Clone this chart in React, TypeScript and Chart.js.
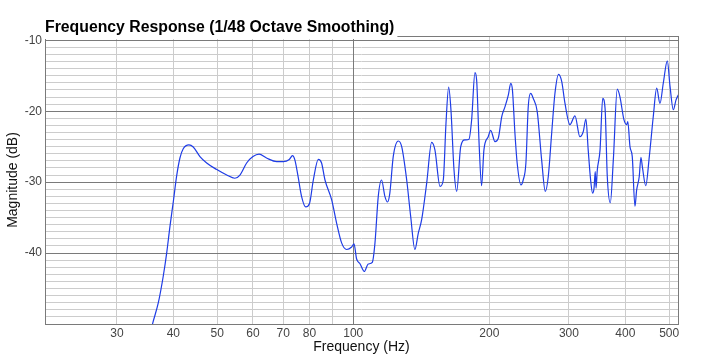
import React, { useEffect, useRef } from "react";
import { Chart, registerables } from "chart.js";

Chart.register(...registerables);

const TITLE = "Frequency Response (1/48 Octave Smoothing)";
const X_TITLE = "Frequency (Hz)";
const Y_TITLE = "Magnitude (dB)";

const X_TICKS = [30, 40, 50, 60, 70, 80, 90, 100, 200, 300, 400, 500];
const X_MAJOR = [100];
const X_HIDDEN_LABELS = [90];
const Y_LABELS = [-10, -20, -30, -40];
const Y_MAJOR = [-10, -20, -30, -40, -50];

const FREQS = [
  35.5, 36.0, 37.05, 37.98, 38.66, 39.3, 40.0, 40.66, 41.36, 42.06, 43.3, 44.26, 45.8, 47.4, 49.8,
  52.5, 54.7, 56.15, 58.1, 60.0, 61.9, 64.3, 67.7, 70.0, 72.2, 73.4, 74.3, 75.5, 76.85, 78.5, 80.0,
  81.6, 83.7, 85.1, 86.6, 89.6, 91.9, 94.3, 96.7, 99.2, 100.4, 101.7, 103.5, 105.8, 107.9, 110.2,
  111.7, 113.6, 115.5, 117.5, 119.1, 120.5, 122.6, 125.8, 128.0, 131.3, 134.0, 136.9, 139.3, 141.7,
  145.4, 149.1, 151.6, 155.6, 158.2, 160.4, 162.6, 164.5, 167.1, 169.4, 172.9, 176.7, 180.3, 182.8,
  185.9, 187.5, 190.0, 192.3, 194.6, 198.9, 201.4, 205.9, 209.4, 213.1, 216.7, 220.4, 223.1, 225.0,
  227.9, 230.5, 235.0, 237.7, 241.0, 243.9, 246.9, 250.2, 255.3, 261.1, 266.0, 270.1, 274.8, 279.4,
  284.7, 289.2, 294.1, 301.6, 309.4, 317.3, 322.7, 327.2, 331.0, 335.1, 338.5, 341.0, 343.1, 344.5,
  346.7, 351.6, 356.4, 360.7, 364.8, 370.5, 376.2, 383.8, 389.0, 397.1, 402.6, 405.0, 409.5, 414.3,
  420.0, 423.7, 429.3, 433.0, 436.5, 443.7, 451.9, 461.1, 469.2, 477.1, 485.2, 495.3, 502.2, 510.7,
  517.8, 524.0,
];

const MAGS = [
  -51.5, -49.9, -47.0, -43.3, -40.0, -36.3, -32.7, -29.2, -26.6, -25.3, -24.75, -25.05, -26.4, -27.3, -28.2,
  -29.0, -29.45, -29.0, -27.3, -26.4, -26.06, -26.6, -27.1, -27.1, -26.8, -26.25, -26.9, -29.2, -32.0, -33.5, -33.06,
  -29.7, -26.8, -27.3, -29.7, -32.5, -35.8, -38.6, -39.5, -39.15, -38.7, -40.8, -41.5, -42.6, -41.55, -41.3,
  -38.6, -32.0, -29.7, -32.0, -32.8, -31.55, -26.4, -24.2, -25.0, -29.7, -34.85, -39.5, -37.2, -35.3,
  -30.1, -24.4, -25.45, -30.6, -29.7, -21.7, -16.6, -19.8, -28.3, -31.3, -25.0, -24.05, -23.95, -21.2,
  -14.56, -15.6, -25.0, -30.5, -25.45, -23.6, -22.7, -24.3, -23.8, -20.75, -19.35, -17.7, -16.06, -17.0,
  -23.1, -27.3, -30.4, -29.7, -27.3, -19.35, -17.5, -18.2, -20.05, -26.86, -31.3, -29.2, -23.1, -17.5,
  -14.8, -15.8, -18.9, -21.9, -20.66, -23.6, -22.9, -21.1, -25.45, -29.7, -31.55, -30.85, -28.5, -30.85,
  -28.3, -25.45, -18.2, -19.6, -29.2, -32.9, -26.86, -16.9, -17.94, -21.2, -21.9, -21.46, -25.0, -26.4,
  -33.4, -31.1, -29.2, -26.5, -28.0, -30.5, -26.4, -20.75, -16.76, -18.9, -16.06, -12.9, -16.5, -19.8,
  -18.4, -17.7,
];

const FONT = '"Liberation Sans", Arial, Helvetica, sans-serif';
const MINOR = "#cccccc";
const MAJOR = "#7a7a7a";

const align = (p: number) => Math.round(p - 0.5) + 0.5;

const framePlugin = {
  id: "frameAndTitle",
  beforeDatasetsDraw(chart: any) {
    const { ctx, chartArea, scales } = chart;
    const l = align(chartArea.left);
    const r = align(chartArea.right);
    const t = align(chartArea.top);
    const b = align(chartArea.bottom);
    ctx.save();
    ctx.strokeStyle = MAJOR;
    ctx.lineWidth = 1;
    ctx.beginPath();
    for (const v of Y_MAJOR) {
      const y = align(scales.y.getPixelForValue(v));
      ctx.moveTo(l, y);
      ctx.lineTo(r, y);
    }
    for (const v of X_MAJOR) {
      const x = align(scales.x.getPixelForValue(v));
      ctx.moveTo(x, t);
      ctx.lineTo(x, b);
    }
    ctx.stroke();
    ctx.strokeRect(l, t, r - l, b - t);
    ctx.restore();
  },
  afterDraw(chart: any) {
    const { ctx } = chart;
    ctx.save();
    ctx.font = `bold 15.8px ${FONT}`;
    const w = ctx.measureText(TITLE).width;
    ctx.fillStyle = "#ffffff";
    ctx.fillRect(44, 0, w + 4, 39);
    ctx.fillStyle = "#000000";
    ctx.textBaseline = "alphabetic";
    ctx.textAlign = "left";
    ctx.fillText(TITLE, 45, 31.5);
    ctx.restore();
  },
};

export default function App() {
  const canvasRef = useRef<HTMLCanvasElement | null>(null);

  useEffect(() => {
    const canvas = canvasRef.current;
    if (!canvas) return;
    const chart = new Chart(canvas, {
      type: "line",
      data: {
        datasets: [
          {
            data: FREQS.map((f, i) => ({ x: f, y: MAGS[i] })),
            borderColor: "rgb(30, 60, 230)",
            borderWidth: 1.2,
            pointRadius: 0,
            fill: false,
            cubicInterpolationMode: "monotone",
          },
        ],
      },
      options: {
        animation: false,
        responsive: false,
        devicePixelRatio: 1,
        layout: { padding: { left: 0, right: 33, top: 36, bottom: 0 } },
        plugins: {
          legend: { display: false },
          title: { display: false },
          tooltip: { enabled: false },
        },
        scales: {
          x: {
            type: "logarithmic",
            min: 20.8,
            max: 523,
            afterBuildTicks: (scale: any) => {
              scale.ticks = X_TICKS.map((v) => ({ value: v }));
            },
            afterFit: (scale: any) => {
              scale.height = 39;
            },
            border: { display: false },
            grid: {
              drawTicks: false,
              color: MINOR,
              lineWidth: 1,
            },
            ticks: {
              autoSkip: false,
              maxRotation: 0,
              minRotation: 0,
              padding: 2,
              color: "#444444",
              font: { family: FONT, size: 12 },
              callback: (v: any) => (X_HIDDEN_LABELS.includes(Number(v)) ? "" : String(v)),
            },
            title: {
              display: true,
              text: X_TITLE,
              color: "#111111",
              font: { family: FONT, size: 14 },
              padding: { top: 0, bottom: 7 },
            },
          },
          y: {
            type: "linear",
            min: -50,
            max: -9.4,
            afterBuildTicks: (scale: any) => {
              const t: any[] = [];
              for (let v = -50; v <= -10; v++) t.push({ value: v });
              scale.ticks = t;
            },
            afterFit: (scale: any) => {
              scale.width = 45;
            },
            border: { display: false },
            grid: {
              drawTicks: false,
              color: MINOR,
              lineWidth: 1,
            },
            ticks: {
              autoSkip: false,
              padding: 3,
              color: "#444444",
              font: { family: FONT, size: 12 },
              callback: (v: any) => (Y_LABELS.includes(Number(v)) ? String(v) : ""),
            },
            title: {
              display: true,
              text: Y_TITLE,
              color: "#111111",
              font: { family: FONT, size: 14 },
              padding: { top: 5, bottom: 0 },
            },
          },
        },
      },
      plugins: [framePlugin],
    } as any);
    return () => chart.destroy();
  }, []);

  return (
    <div style={{ position: "fixed", left: 0, top: 0, width: 711, height: 363, background: "#fff" }}>
      <canvas ref={canvasRef} width={711} height={363} style={{ display: "block", width: 711, height: 363 }} />
    </div>
  );
}
